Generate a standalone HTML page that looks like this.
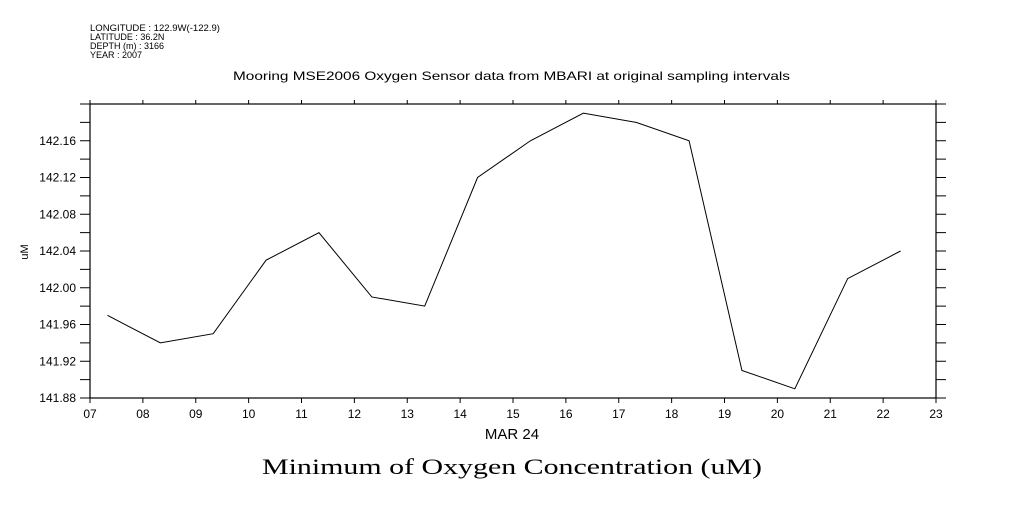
<!DOCTYPE html>
<html><head><meta charset="utf-8"><style>
body{margin:0;background:#fff}
svg text{font-family:"Liberation Sans",sans-serif;fill:#000}
</style></head><body>
<svg width="1009" height="504" viewBox="0 0 1009 504">
<g font-size="9">
<text x="90" y="31" textLength="130" lengthAdjust="spacingAndGlyphs">LONGITUDE : 122.9W(-122.9)</text>
<text x="90" y="40">LATITUDE : 36.2N</text>
<text x="90" y="49">DEPTH (m) : 3166</text>
<text x="90" y="58">YEAR : 2007</text>
</g>
<text x="233" y="80" font-size="12" textLength="557" lengthAdjust="spacingAndGlyphs">Mooring MSE2006 Oxygen Sensor data from MBARI at original sampling intervals</text>
<rect x="90" y="104" width="846" height="294" fill="none" stroke="#000" stroke-width="1.2"/>
<g id="axes"></g>
<polyline id="line" fill="none" stroke="#000" stroke-width="1"/>
<text transform="translate(28,252) rotate(-90)" font-size="11" text-anchor="middle">uM</text>
<text x="512" y="439" font-size="15" text-anchor="middle">MAR 24</text>
<text x="262" y="474" font-size="22" textLength="500" lengthAdjust="spacingAndGlyphs" style="font-family:'Liberation Serif',serif">Minimum of Oxygen Concentration (uM)</text>
</svg>
<script>
const hours=[7.33,8.33,9.33,10.33,11.33,12.33,13.33,14.33,15.33,16.33,17.33,18.33,19.33,20.33,21.33,22.33];
const values=[141.97,141.94,141.95,142.03,142.06,141.99,141.98,142.12,142.16,142.19,142.18,142.16,141.91,141.89,142.01,142.04];
const xTickLabels=["07","08","09","10","11","12","13","14","15","16","17","18","19","20","21","22","23"];
const yTickLabels=["141.88","141.92","141.96","142.00","142.04","142.08","142.12","142.16"];
const X=h=>90+(h-7)*846/16;
const Y=v=>398-(v-141.88)*294/0.32;
const NS="http://www.w3.org/2000/svg";
const g=document.getElementById('axes');
function ln(x1,y1,x2,y2,n){const l=document.createElementNS(NS,'line');l.setAttribute('x1',x1);l.setAttribute('y1',y1);l.setAttribute('x2',x2);l.setAttribute('y2',y2);l.setAttribute('stroke','#000');


g.appendChild(l);}
function tx(x,y,s,a,n){const t=document.createElementNS(NS,'text');t.setAttribute('x',x);t.setAttribute('y',y);t.setAttribute('font-size','12');t.setAttribute('text-anchor',a);t.textContent=s;


g.appendChild(t);}
xTickLabels.forEach((s,i)=>{const x=X(7+i);ln(x,398,x,403,'x-tick');ln(x,104,x,100,'x-tick-top');tx(x,418,s,'middle','x-tick-label');});
for(let k=0;k<=16;k++){const v=141.88+k*0.02;const y=Y(v);if(y<104)continue;ln(80,y,90,y,'y-tick');ln(936,y,946,y,'y-tick-right');}
yTickLabels.forEach(s=>{const y=Y(parseFloat(s));tx(76,y+4,s,'end','y-tick-label');});
document.getElementById('line').setAttribute('points',hours.map((h,i)=>X(h)+','+Y(values[i])).join(' '));
</script>
</body></html>
